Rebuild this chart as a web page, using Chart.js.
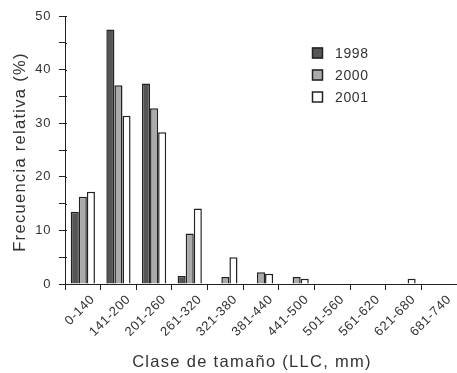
<!DOCTYPE html>
<html>
<head>
<meta charset="utf-8">
<script src="https://cdn.jsdelivr.net/npm/chart.js@4.4.1/dist/chart.umd.min.js"></script>
<style>
  html, body { margin: 0; padding: 0; background: #fff; }
  #wrap { width: 457px; height: 373px; }
</style>
</head>
<body>
<div id="wrap"><canvas id="c" width="457" height="373"></canvas></div>
<script>
// Size classes of carapace length (LLC, mm)
const categories = ['0-140', '141-200', '201-260', '261-320', '321-380', '381-440',
                    '441-500', '501-560', '561-620', '621-680', '681-740'];
// Relative frequency (%) per sampling year; null = no individuals in that class
const freq1998 = [13.5, 47.5, 37.4, 1.5, null, null, null, null, null, null, null];
const freq2000 = [16.3, 37.1, 32.8, 9.4, 1.3, 2.2, 1.3, null, null, null, null];
const freq2001 = [17.2, 31.4, 28.3, 14.1, 5.0, 1.9, 1.0, null, null, 1.0, null];
const seriesLabels = ['1998', '2000', '2001'];
const yTicks = [0, 10, 20, 30, 40, 50];

const FONT = '"Liberation Sans", Arial, Helvetica, sans-serif';
const INK = '#333';
const EDGE = '#222';

// Axis captions and the boxed legend, drawn after the bars
const captions = {
  id: 'captions',
  beforeDraw(chart) {
    chart.ctx.letterSpacing = '0.6px';
  },
  afterDraw(chart) {
    const { ctx, chartArea: a } = chart;
    ctx.save();
    ctx.fillStyle = INK;
    ctx.letterSpacing = '1.3px';
    ctx.font = '16.5px ' + FONT;
    ctx.textAlign = 'center';
    ctx.textBaseline = 'middle';
    ctx.fillText('Clase de tamaño (LLC, mm)', a.left + 187, a.bottom + 78);
    ctx.translate(20, (a.top + a.bottom) / 2 + 2);
    ctx.rotate(-Math.PI / 2);
    ctx.fillText('Frecuencia relativa (%)', 0, 0);
    ctx.restore();

    // small tick stubs on the right side of the value axis
    const y = chart.scales.y;
    ctx.save();
    ctx.strokeStyle = EDGE;
    ctx.lineWidth = 1;
    y.ticks.forEach(t => {
      const py = Math.round(y.getPixelForValue(t.value)) + 0.5;
      ctx.beginPath();
      ctx.moveTo(a.left, py);
      ctx.lineTo(a.left + 2, py);
      ctx.stroke();
    });
    ctx.restore();

    // legend
    ctx.save();
    ctx.letterSpacing = '0.6px';
    ctx.font = '14px ' + FONT;
    ctx.textBaseline = 'middle';
    ctx.textAlign = 'left';
    const lx = a.left + 247, ly = a.top + 37, step = 22;
    chart.data.datasets.forEach((ds, i) => {
      const cy = ly + i * step;
      ctx.fillStyle = ds.backgroundColor;
      ctx.fillRect(lx, cy - 5.5, 11, 11);
      ctx.strokeStyle = EDGE;
      ctx.lineWidth = 1.5;
      ctx.strokeRect(lx + 0.5, cy - 5, 10, 10);
      ctx.fillStyle = INK;
      ctx.fillText(ds.label, lx + 23, cy + 1);
    });
    ctx.restore();
  }
};

const mkSet = (label, data, fill) => ({
  label, data,
  backgroundColor: fill,
  borderColor: EDGE,
  borderWidth: 1.5,
  borderSkipped: 'bottom',
  barPercentage: 1,
  categoryPercentage: 0.68
});

new Chart(document.getElementById('c'), {
  type: 'bar',
  data: {
    labels: categories,
    datasets: [
      mkSet(seriesLabels[0], freq1998, '#555555'),
      mkSet(seriesLabels[1], freq2000, '#aaaaaa'),
      mkSet(seriesLabels[2], freq2001, '#ffffff')
    ]
  },
  options: {
    responsive: false,
    devicePixelRatio: 1,
    animation: false,
    layout: { padding: { top: 16, right: 0, left: 0, bottom: 0 } },
    plugins: { legend: { display: false }, tooltip: { enabled: false } },
    scales: {
      x: {
        offset: true,
        grid: { display: true, drawOnChartArea: false, drawTicks: true, tickLength: 6,
                color: EDGE, lineWidth: 1, offset: true },
        border: { display: true, color: EDGE, width: 1 },
        ticks: {
          color: INK, font: { family: FONT, size: 13 },
          minRotation: 45, maxRotation: 45, autoSkip: false,
          labelOffset: 10, padding: 2
        },
        afterFit(s) { s.height = 89; s.paddingLeft = 0; s.paddingRight = 0; }
      },
      y: {
        min: 0, max: 50,
        grid: { display: true, drawOnChartArea: false, drawTicks: true, tickLength: 6,
                color: EDGE, lineWidth: 1 },
        border: { display: true, color: EDGE, width: 1 },
        ticks: {
          stepSize: 5, color: INK, font: { family: FONT, size: 13 }, padding: 8,
          callback: v => (yTicks.includes(v) ? String(v) : '')
        },
        afterFit(s) { s.width = 65; }
      }
    }
  },
  plugins: [captions]
});
</script>
</body>
</html>
